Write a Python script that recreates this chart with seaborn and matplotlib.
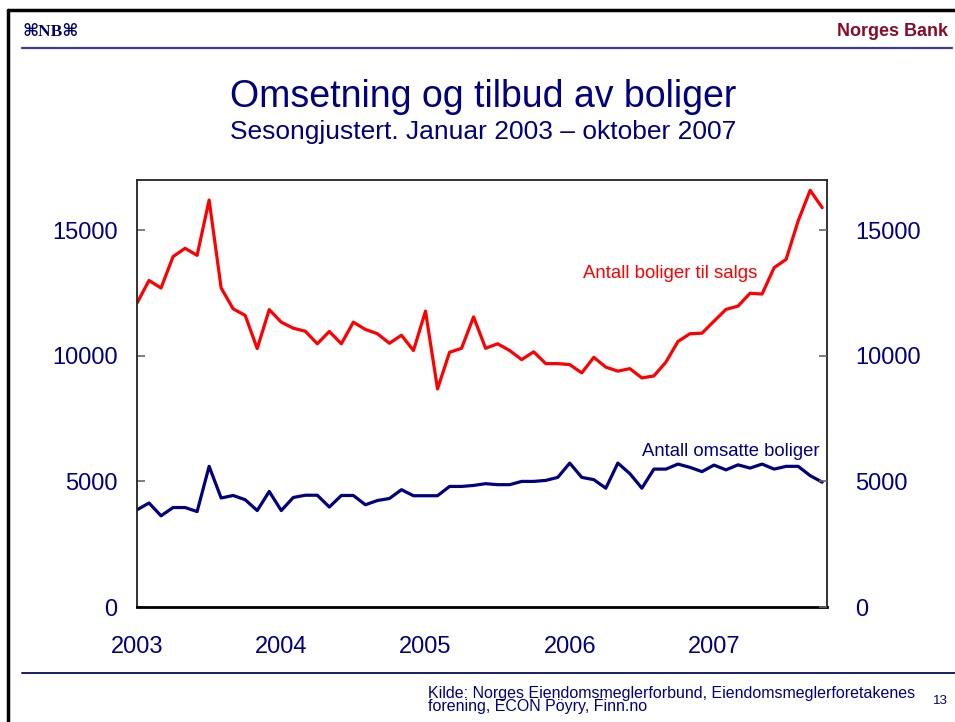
import numpy as np
import pandas as pd
import matplotlib
matplotlib.use("Agg")
import matplotlib.pyplot as plt
import seaborn as sns
from matplotlib.lines import Line2D

# ---- data (monthly, Jan 2003 - Oct 2007) ----
til_salgs = [12100, 13000, 12700, 13950, 14280, 14000, 16200, 12700, 11870, 11610,
             10290, 11840, 11340, 11100, 10980, 10480, 10970, 10480, 11340, 11050,
             10880, 10500, 10820, 10210, 11780, 8680, 10140, 10300, 11550, 10300,
             10480, 10210, 9850, 10160, 9690, 9690, 9650, 9320, 9940, 9550,
             9390, 9490, 9120, 9200, 9750, 10570, 10880, 10900, 11380, 11850,
             11980, 12490, 12460, 13510, 13840, 15370, 16590, 15900]
omsatte = [3870, 4140, 3630, 3960, 3960, 3800, 5600, 4340, 4440, 4270,
           3840, 4600, 3840, 4360, 4450, 4450, 3980, 4440, 4440, 4070,
           4240, 4320, 4670, 4430, 4430, 4430, 4800, 4800, 4840, 4910,
           4870, 4870, 5000, 5000, 5040, 5160, 5730, 5160, 5070, 4730,
           5730, 5310, 4730, 5490, 5490, 5690, 5560, 5390, 5650, 5460,
           5660, 5530, 5690, 5490, 5600, 5600, 5230, 4970]
years = [2003, 2004, 2005, 2006, 2007]
y_ticks = [0, 5000, 10000, 15000]
label_red = "Antall boliger til salgs"
label_blue = "Antall omsatte boliger"
title = "Omsetning og tilbud av boliger"
subtitle = "Sesongjustert. Januar 2003 \u2013 oktober 2007"
source = "Kilde: Norges Eiendomsmeglerforbund, Eiendomsmeglerforetakenes\nforening, ECON P\u00f6yry, Finn.no"

t = 2003 + np.arange(len(til_salgs)) / 12.0
df = pd.DataFrame({"t": t, "til_salgs": til_salgs, "omsatte": omsatte})

sns.set_theme(style="white")
plt.rcParams['font.family'] = ['Liberation Sans', 'DejaVu Sans']

NAVY = "#000080"
RED = "#FF0000"

fig = plt.figure(figsize=(9.55, 7.22), dpi=100)
W, H = 955, 722


def fx(px):
    return px / W


def fy(py):
    return 1 - py / H


ax = fig.add_axes([fx(137), fy(607), (827 - 137) / W, (607 - 180) / H])

sns.lineplot(data=df, x="t", y="til_salgs", ax=ax, color=RED, lw=2.3)
sns.lineplot(data=df, x="t", y="omsatte", ax=ax, color=NAVY, lw=2.3)

xmax = 2003 + 690 / 144.25
ax.set_xlim(2003, xmax)
ax.set_ylim(0, 17000)
ax.set_xlabel("")
ax.set_ylabel("")
ax.set_xticks(years)
ax.set_xticklabels([str(y) for y in years])
ax.set_yticks(y_ticks)
ax.set_yticklabels([str(v) for v in y_ticks])
ax.tick_params(axis="y", direction="in", length=6, width=1.2, color="#666666",
               labelsize=17, labelcolor=NAVY, pad=14)
ax.tick_params(axis="x", direction="in", length=7, width=0.8, color="#333333",
               labelsize=17, labelcolor=NAVY, pad=21)
for side, sp in ax.spines.items():
    sp.set_visible(True)
    sp.set_color("#222222")
    sp.set_linewidth(1.3)
ax.spines["bottom"].set_linewidth(2.0)
ax.spines["bottom"].set_color("black")
ax.grid(False)

ax2 = ax.twinx()
ax2.set_ylim(0, 17000)
ax2.set_yticks(y_ticks)
ax2.set_yticklabels([str(v) for v in y_ticks])
ax2.tick_params(axis="y", direction="in", length=6, width=1.2, color="#666666",
                labelsize=17, labelcolor=NAVY, pad=20)
for sp in ax2.spines.values():
    sp.set_visible(False)
ax2.grid(False)

# series labels
fig.text(fx(757), fy(273), label_red, fontsize=13.4, color=RED,
         ha="right", va="center")
fig.text(fx(819), fy(452), label_blue, fontsize=13.3, color=NAVY,
         ha="right", va="center")

# ---- slide decorations ----
fig.text(fx(483), fy(97), title, ha="center", va="center",
         fontsize=27, color=NAVY)
fig.text(fx(483), fy(132), subtitle, ha="center", va="center",
         fontsize=19, color=NAVY)

fig.text(fx(22), fy(32), "\u2318NB\u2318", ha="left", va="center",
         fontsize=12.5, color="#000066", fontweight="bold",
         family=['Liberation Serif', 'DejaVu Sans'])
fig.text(fx(948), fy(32), "Norges Bank", ha="right", va="center",
         fontsize=13, color="#8B0A2A", fontweight="bold",
         family=['Liberation Sans Narrow', 'Liberation Sans', 'DejaVu Sans'])

fig.text(fx(428), fy(700), source, ha="left", va="center",
         fontsize=11.5, color=NAVY, linespacing=0.85)
fig.text(fx(948), fy(701), "13", ha="right", va="center",
         fontsize=9.5, color=NAVY)

# lines: border and separators
fig.add_artist(Line2D([fx(8), fx(8)], [0, fy(10)], transform=fig.transFigure,
                      color="black", lw=2.5))
fig.add_artist(Line2D([fx(8), 1], [fy(10), fy(10)], transform=fig.transFigure,
                      color="black", lw=2.5))
fig.add_artist(Line2D([fx(22), fx(952)], [fy(48), fy(48)], transform=fig.transFigure,
                      color="#3C3C8C", lw=1.6))
fig.add_artist(Line2D([fx(22), 1], [fy(673), fy(673)], transform=fig.transFigure,
                      color="#1C1C70", lw=1.4))

fig.savefig("out.png", dpi=100, facecolor="white")
